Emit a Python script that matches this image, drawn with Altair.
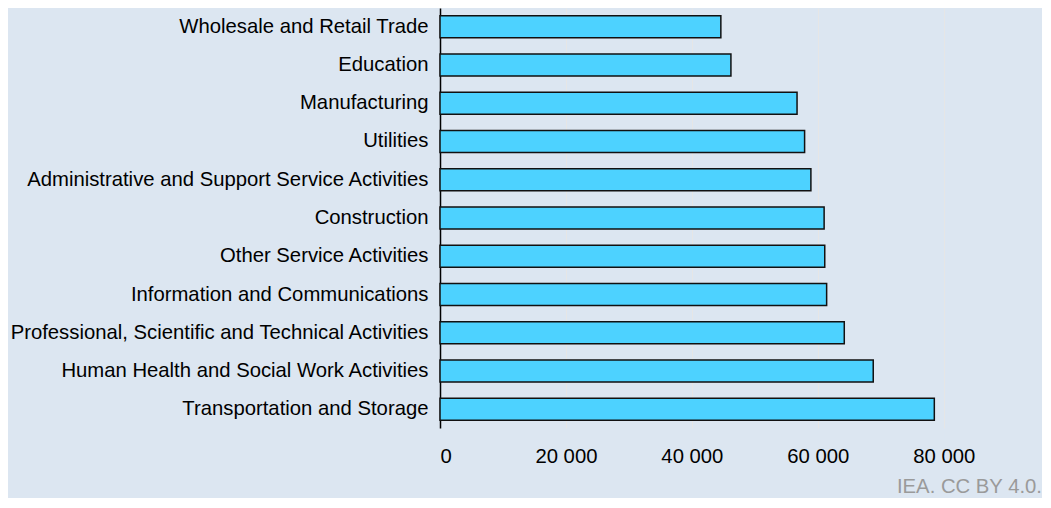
import altair as alt
import pandas as pd

categories = [
    "Wholesale and Retail Trade",
    "Education",
    "Manufacturing",
    "Utilities",
    "Administrative and Support Service Activities",
    "Construction",
    "Other Service Activities",
    "Information and Communications",
    "Professional, Scientific and Technical Activities",
    "Human Health and Social Work Activities",
    "Transportation and Storage",
]
values = [44600, 46200, 56700, 57900, 58900, 61000, 61100, 61400, 64200, 68800, 78500]
tick_values = [0, 20000, 40000, 60000, 80000]

df = pd.DataFrame({"sector": categories, "value": values})

FONT = "Liberation Sans"

chart = (
    alt.Chart(df)
    .mark_bar(color="#4dd2ff", stroke="#111111", strokeWidth=1.5)
    .encode(
        x=alt.X(
            "value:Q",
            scale=alt.Scale(domain=[0, 95600], nice=False),
            axis=alt.Axis(
                title=None,
                values=tick_values,
                labelExpr="datum.value == 0 ? '0' : floor(datum.value/1000) + ' 000'",
                domain=False,
                ticks=False,
                grid=True,
                gridColor="#e6e6e6",
                gridWidth=1,
                labelFont=FONT,
                labelFontSize=20.3,
                labelColor="#000000",
                labelPadding=18,
            ),
        ),
        y=alt.Y(
            "sector:N",
            sort=categories,
            scale=alt.Scale(paddingInner=0.42, paddingOuter=0.2),
            axis=alt.Axis(
                title=None,
                domain=True,
                domainColor="#000000",
                domainWidth=1.5,
                ticks=False,
                grid=False,
                labelFont=FONT,
                labelFontSize=20.3,
                labelColor="#000000",
                labelPadding=12,
                labelLimit=1000,
            ),
        ),
    )
    .properties(
        width=602,
        height=420,
        background="#dce6f1",
        padding={"left": 0, "top": 0, "right": 0, "bottom": 0},
        title=alt.TitleParams(
            text="IEA. CC BY 4.0.",
            orient="bottom",
            anchor="end",
            font=FONT,
            fontSize=20.3,
            fontWeight="normal",
            color="#9a9a9a",
            offset=11,
        ),
    )
    .configure_view(stroke=None)
)

chart.save("out.html", embed_options={"renderer": "svg", "actions": False})
